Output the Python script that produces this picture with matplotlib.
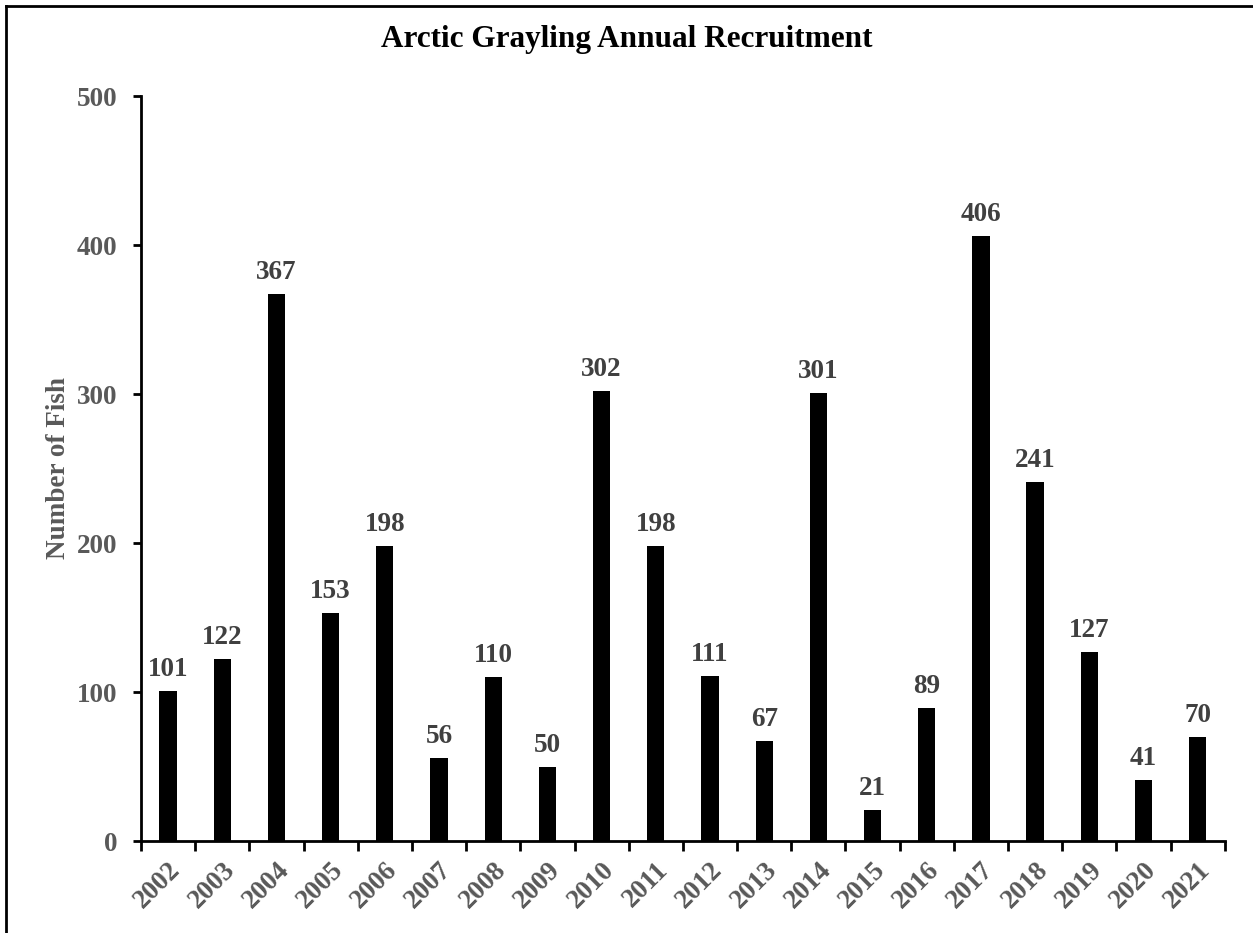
import matplotlib
matplotlib.use("Agg")
import matplotlib.pyplot as plt
import numpy as np
from matplotlib.lines import Line2D

years = [str(y) for y in range(2002, 2022)]
fish = [101, 122, 367, 153, 198, 56, 110, 50, 302, 198,
        111, 67, 301, 21, 89, 406, 241, 127, 41, 70]

plt.rcParams["font.family"] = ["Liberation Serif", "DejaVu Serif"]
plt.rcParams["font.weight"] = "bold"

fig = plt.figure(figsize=(12.53, 9.33), dpi=100)
ax = fig.add_axes([0.1125, 0.0986, 0.865, 0.7984])

x = np.arange(len(years))
bars = ax.bar(x, fish, width=0.32, color="black")
for b, v in zip(bars, fish):
    ax.text(b.get_x() + b.get_width() / 2, v + 6, str(v), ha="center", va="bottom",
            fontsize=19.5, fontweight="bold", color="#404040")

ax.set_xlim(-0.5, len(years) - 0.5)
ax.set_ylim(0, 500)
ax.set_yticks(range(0, 501, 100))
ax.set_yticklabels([str(t) for t in range(0, 501, 100)], fontsize=19.5,
                   fontweight="bold", color="#595959")

# category labels at centres, tick marks at the boundaries
ax.set_xticks(x)
ax.set_xticklabels(years, rotation=45, ha="right", rotation_mode="anchor",
                   fontsize=19.5, fontweight="bold", color="#595959")
ax.tick_params(axis="x", length=0, pad=12)
ax.set_xticks(np.arange(-0.5, len(years)), minor=True)
ax.tick_params(axis="x", which="minor", length=7, width=2, direction="out")
ax.tick_params(axis="y", length=6, width=2, direction="out", pad=11)

for s in ["top", "right"]:
    ax.spines[s].set_visible(False)
for s in ["left", "bottom"]:
    ax.spines[s].set_linewidth(2)

ax.set_ylabel("Number of Fish", fontsize=19.5, fontweight="bold", color="#595959", labelpad=4)
fig.text(0.5, 0.958, "Arctic Grayling Annual Recruitment", ha="center", va="center",
         fontsize=22.5, fontweight="bold", color="black")

# outer frame (top and left edges visible in the original)
fig.add_artist(Line2D([0.005, 0.005], [0.0, 0.994], transform=fig.transFigure,
                      color="black", linewidth=2))
fig.add_artist(Line2D([0.005, 1.0], [0.994, 0.994], transform=fig.transFigure,
                      color="black", linewidth=2))

fig.savefig("out.png", dpi=100, facecolor="white")
